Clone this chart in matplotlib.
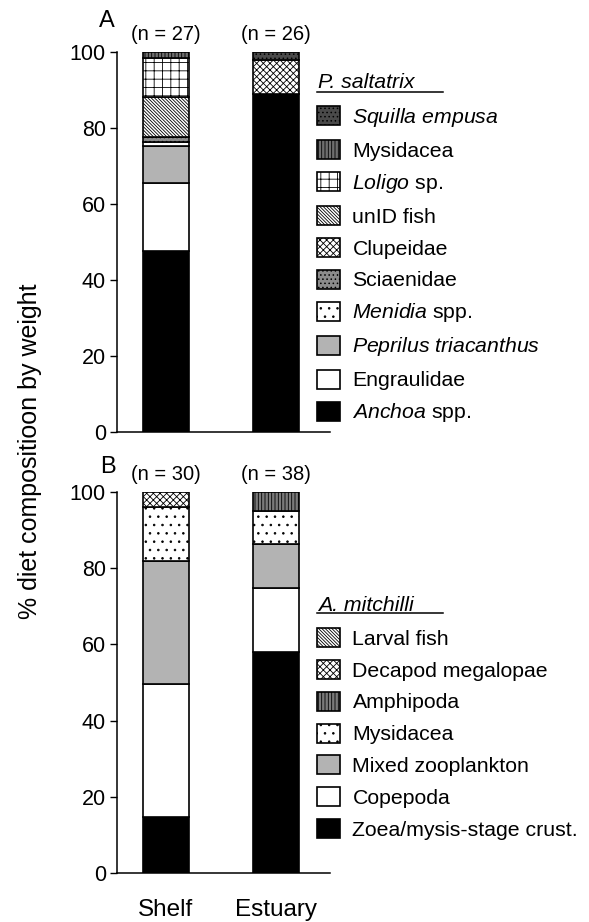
import matplotlib
matplotlib.use('Agg')
import matplotlib.pyplot as plt
import matplotlib.patches as mpatches
from matplotlib.lines import Line2D

plt.rcParams['font.family'] = ['Liberation Sans', 'DejaVu Sans']
plt.rcParams['mathtext.fontset'] = 'custom'
plt.rcParams['mathtext.rm'] = 'Liberation Sans'
plt.rcParams['mathtext.it'] = 'Liberation Sans:italic'
plt.rcParams['hatch.linewidth'] = 0.6

# Dados
sites = ['Shelf', 'Estuary']

# P. saltatrix - ordem de baixo para cima da pilha
labels_a = [r'$\it{Anchoa}$ spp.', 'Engraulidae', r'$\it{Peprilus\ triacanthus}$',
            r'$\it{Menidia}$ spp.', 'Sciaenidae', 'Clupeidae', 'unID fish',
            r'$\it{Loligo}$ sp.', 'Mysidacea', r'$\it{Squilla\ empusa}$']
shelf_a = [47.5, 17.9, 9.9, 1.1, 1.3, 0, 10.4, 10.4, 1.5, 0]
estuary_a = [88.9, 0, 0, 0, 0, 9.1, 0, 0, 0, 2.0]
n_a = [27, 26]

# A. mitchilli - ordem de baixo para cima da pilha
labels_b = ['Zoea/mysis-stage crust.', 'Copepoda', 'Mixed zooplankton', 'Mysidacea',
            'Amphipoda', 'Decapod megalopae', 'Larval fish']
shelf_b = [14.8, 34.7, 32.4, 14.2, 0, 3.9, 0]
estuary_b = [57.9, 16.9, 11.5, 8.6, 5.1, 0, 0]
n_b = [30, 38]

# Estilos (cor, hachura)
diag = '\\' * 10
styles_a = [('black', ''), ('white', ''), ('#b3b3b3', ''), ('white', '..'),
            ('#8c8c8c', '....'), ('white', 'xxxxx'), ('white', diag),
            ('white', '++'), ('#6e6e6e', '|||||'), ('#4a4a4a', '....')]
styles_b = [('black', ''), ('white', ''), ('#b3b3b3', ''), ('white', '..'),
            ('#7a7a7a', '|||||'), ('white', 'xxxxx'), ('white', diag)]

W, H = 589, 922
fig = plt.figure(figsize=(W / 100, H / 100), dpi=100)


def px_box(left, top, right, bottom):
    return [left / W, 1 - bottom / H, (right - left) / W, (bottom - top) / H]


def draw_panel(ax, values, styles):
    bottoms = [0.0, 0.0]
    for i, (face, hatch) in enumerate(styles):
        heights = [values[0][i], values[1][i]]
        bars = ax.bar([0, 1], heights, width=0.41, bottom=bottoms, color=face,
                      hatch=hatch, edgecolor='black', linewidth=1.2, zorder=2)
        for b, h in zip(bars, heights):
            if h == 0:
                b.set_visible(False)
        bottoms = [bottoms[0] + heights[0], bottoms[1] + heights[1]]
    ax.set_xlim(-0.445, 1.49)
    ax.set_ylim(0, 100)
    ax.set_yticks([0, 20, 40, 60, 80, 100])
    ax.spines['top'].set_visible(False)
    ax.spines['right'].set_visible(False)
    for s in ['left', 'bottom']:
        ax.spines[s].set_linewidth(1.1)
    ax.tick_params(axis='y', length=5, width=1, pad=3, labelsize=15.5)
    ax.tick_params(axis='x', length=0, pad=19, labelsize=17.5)


def add_legend(title, title_base, line_y, labels, styles, top_y):
    handles = [mpatches.Patch(facecolor=f, hatch=h, edgecolor='black', linewidth=1.2)
               for f, h in styles][::-1]
    fig.legend(handles, labels[::-1], loc='upper left',
               bbox_to_anchor=(317 / W, 1 - top_y / H), frameon=False,
               borderpad=0, borderaxespad=0, fontsize=15.3, handlelength=1.06,
               handleheight=1.0, handletextpad=0.61, labelspacing=0.52)
    fig.text(318 / W, 1 - title_base / H, title, fontsize=15.3, style='italic',
             va='baseline', ha='left')
    fig.add_artist(Line2D([317 / W, 443 / W], [1 - line_y / H, 1 - line_y / H],
                          color='black', linewidth=1.1))


# Painel A
ax_a = fig.add_axes(px_box(117, 52, 330, 432))
draw_panel(ax_a, [shelf_a, estuary_a], styles_a)
ax_a.set_xticks([])
for x, n in zip([0, 1], n_a):
    ax_a.text(x, 102, f'(n = {n})', ha='center', va='bottom', fontsize=14.5)
fig.text(107 / W, 1 - 21 / H, 'A', fontsize=17, ha='center', va='center')
add_legend('P. saltatrix', 88, 92, labels_a, styles_a, 106)

# Painel B
ax_b = fig.add_axes(px_box(117, 492, 330, 873))
draw_panel(ax_b, [shelf_b, estuary_b], styles_b)
ax_b.set_xticks([0, 1])
ax_b.set_xticklabels(sites)
for x, n in zip([0, 1], n_b):
    ax_b.text(x, 102, f'(n = {n})', ha='center', va='bottom', fontsize=14.5)
fig.text(108 / W, 1 - 467 / H, 'B', fontsize=17, ha='center', va='center')
add_legend('A. mitchilli', 611, 613.5, labels_b, styles_b, 628)

fig.text(30 / W, 1 - 451 / H, '% diet compositioon by weight', rotation=90,
         ha='center', va='center', fontsize=18)

fig.savefig('out.png', dpi=100)
